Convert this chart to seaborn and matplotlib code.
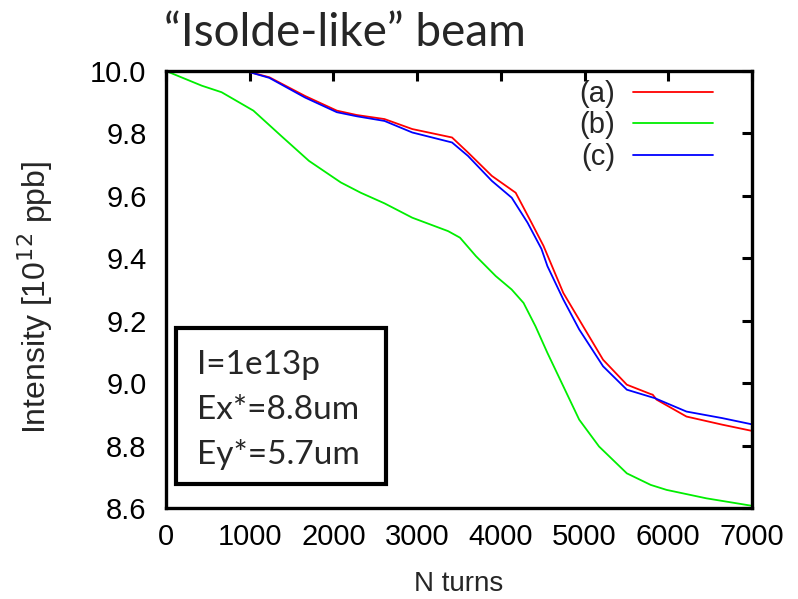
import matplotlib
matplotlib.use("Agg")
import matplotlib.pyplot as plt
import seaborn as sns
import pandas as pd
from matplotlib.patches import Rectangle

# ---- data ----
a_x = [950, 1234, 1661, 2041, 2278, 2610, 2942, 3417, 3607, 3892, 4177, 4366, 4509,
       4746, 4983, 5221, 5505, 5790, 5814, 5861, 6217, 6644, 7000]
a_y = [10.0, 9.98, 9.92, 9.873, 9.859, 9.846, 9.814, 9.787, 9.739, 9.664, 9.61, 9.514, 9.44,
       9.289, 9.182, 9.075, 8.995, 8.965, 8.963, 8.947, 8.893, 8.867, 8.847]

b_x = [0, 427, 664, 1044, 1376, 1708, 2088, 2326, 2610, 2942, 3370, 3512, 3702, 3939,
       4129, 4271, 4414, 4556, 4746, 4936, 5173, 5505, 5790, 5980, 6455, 7000]
b_y = [10.0, 9.953, 9.932, 9.873, 9.792, 9.712, 9.643, 9.61, 9.576, 9.530, 9.487, 9.466,
       9.407, 9.343, 9.3, 9.257, 9.182, 9.097, 8.99, 8.883, 8.797, 8.711, 8.674, 8.658,
       8.631, 8.607]

c_x = [950, 1234, 1661, 2041, 2278, 2610, 2942, 3417, 3607, 3892, 4130, 4319, 4485,
       4556, 4746, 4936, 5221, 5505, 5838, 6217, 6644, 7000]
c_y = [10.0, 9.978, 9.915, 9.868, 9.855, 9.840, 9.803, 9.771, 9.728, 9.648, 9.594, 9.514,
       9.43, 9.375, 9.268, 9.172, 9.054, 8.979, 8.952, 8.909, 8.888, 8.868]

labels = ["(a)", "(b)", "(c)"]
colors = ["#ff0000", "#00ee00", "#0000ff"]
x_ticks = [0, 1000, 2000, 3000, 4000, 5000, 6000, 7000]
y_ticks = [8.6, 8.8, 9.0, 9.2, 9.4, 9.6, 9.8, 10.0]
title = "\u201cIsolde-like\u201d beam"
box_lines = ["I=1e13p", "Ex*=8.8um", "Ey*=5.7um"]

frames = []
for lab, xs, ys in zip(labels, [a_x, b_x, c_x], [a_y, b_y, c_y]):
    frames.append(pd.DataFrame({"turns": xs, "intensity": ys, "case": lab}))
df = pd.concat(frames, ignore_index=True)

sns.set_theme(style="white")
plt.rcParams["font.family"] = ["Liberation Sans", "DejaVu Sans"]

W, H = 798, 599
fig = plt.figure(figsize=(W / 100, H / 100), dpi=100)
ax = fig.add_axes([166 / W, 1 - 508 / H, (752 - 166) / W, (508 - 71) / H])

sns.lineplot(data=df, x="turns", y="intensity", hue="case", palette=colors,
             hue_order=labels, ax=ax, linewidth=1.3, sort=False, estimator=None)

ax.set_xlim(0, 7000)
ax.set_ylim(8.6, 10.0)
ax.set_xticks(x_ticks)
ax.set_xticklabels([str(t) for t in x_ticks])
ax.set_yticks(y_ticks)
ax.set_yticklabels([f"{t:.1f}" for t in y_ticks])
ax.tick_params(direction="in", length=7, width=2.2, top=True, right=True,
               labelsize=21, colors="black")
ax.tick_params(axis="y", pad=14)
ax.tick_params(axis="x", pad=11)
for s in ax.spines.values():
    s.set_linewidth(2.4)
    s.set_color("black")
ax.set_xlabel("N turns", fontsize=20, labelpad=14)
ax.set_ylabel("Intensity [10$^{12}$ ppb]", fontsize=23)
ax.yaxis.set_label_coords((55 - 166) / 586, 0.483)

leg = ax.legend(loc="upper right", bbox_to_anchor=((713 - 166) / 586, 0.98), frameon=False,
                markerfirst=False, fontsize=21, handlelength=2.75, handletextpad=0.6,
                labelspacing=0.12, borderaxespad=0.0, borderpad=0.0)
for h in leg.get_lines():
    h.set_linewidth(1.3)

fig.text(164 / W, 1 - 33 / H, title, fontsize=33, family=["Lato", "DejaVu Sans"],
         ha="left", va="center")

fig.patches.append(Rectangle((176 / W, 1 - 484 / H), (386 - 176) / W, (484 - 328) / H,
                             transform=fig.transFigure, fill=False, edgecolor="black",
                             linewidth=3, zorder=5))
for i, line in enumerate(box_lines):
    fig.text(197 / W, 1 - (374 + 45 * i) / H, line, fontsize=24,
             family=["Lato", "DejaVu Sans"], ha="left", va="baseline", zorder=6)

fig.savefig("out.png", dpi=100)
